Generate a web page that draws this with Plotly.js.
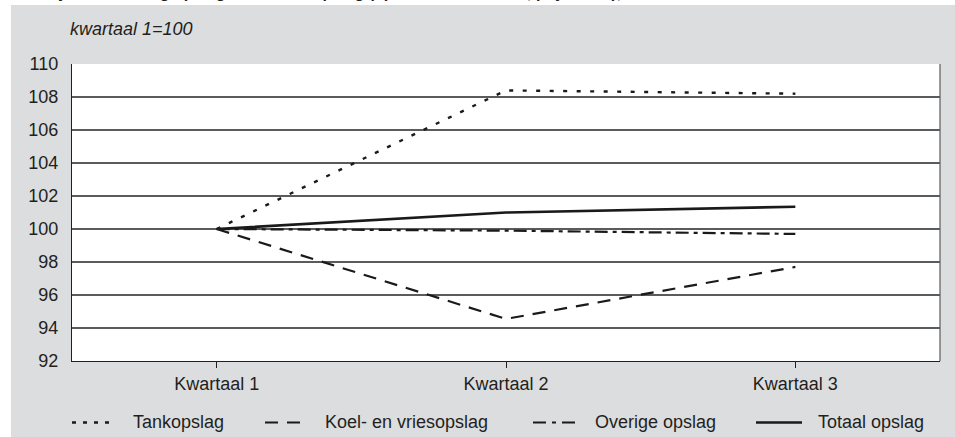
<!DOCTYPE html>
<html>
<head>
<meta charset="utf-8">
<script src="https://cdn.plot.ly/plotly-3.0.1.min.js"></script>
<style>html,body{margin:0;padding:0;background:#fff;}#chart{width:955px;height:437px;}</style>
</head>
<body>
<div id="chart"></div>
<script>
const categories = ["Kwartaal 1", "Kwartaal 2", "Kwartaal 3"];
const tankopslag = [100, 108.4, 108.2];
const koelVriesopslag = [100, 94.55, 97.7];
const overigeOpslag = [100, 99.9, 99.7];
const totaalOpslag = [100, 101.0, 101.35];
const seriesNames = ["Tankopslag", "Koel- en vriesopslag", "Overige opslag", "Totaal opslag"];
const yTicks = [92, 94, 96, 98, 100, 102, 104, 106, 108, 110];

const FONT = "Liberation Sans, Arial, sans-serif";
const TXT = "#231f20";
const lineColor = "#1a1a1a";
const dashes = ["4px,9.5px", "13px,9px", "13px,5px,4px,5px", "solid"];
const widths = [2.4, 2.2, 2.2, 2.6];
const seriesValues = [tankopslag, koelVriesopslag, overigeOpslag, totaalOpslag];

const traces = seriesValues.map((vals, i) => ({
  x: categories, y: vals, name: seriesNames[i], mode: "lines", showlegend: false,
  line: {color: lineColor, width: widths[i], dash: dashes[i]}
}));

const plotH = 297, plotTopPx = 64, plotW = 868, plotLeftPx = 72;
const px2x = p => (p - plotLeftPx) / plotW;
const py2y = p => 1 + (plotTopPx - p) / plotH;

// legend layout (pixel positions of symbol start/end and text start)
const legSym = [[72, 110], [265, 300], [533, 575], [756, 802]];
const legText = [133, 325, 595, 818];
const legY = 422.5;

const shapes = [
  {type: "rect", xref: "paper", yref: "paper", x0: px2x(0), x1: px2x(955), y0: py2y(5), y1: py2y(0),
   fillcolor: "#ffffff", line: {width: 0}, layer: "below"},
  {type: "rect", xref: "paper", yref: "paper", x0: px2x(0), x1: px2x(11), y0: py2y(437), y1: py2y(0),
   fillcolor: "#ffffff", line: {width: 0}, layer: "below"},
  {type: "line", xref: "paper", yref: "y", x0: 0, x1: 1, y0: 100, y1: 100,
   line: {color: "#111111", width: 1.6}, layer: "below"},
  {type: "line", xref: "paper", yref: "paper", x0: 1, x1: 1, y0: 0, y1: 1,
   line: {color: "#5a5b5d", width: 1.2}, layer: "below"}
];
const legDash = ["4px,7px", "13px,9px", "13px,6px,4px,6px", "solid"];
legSym.forEach((s, i) => {
  shapes.push({type: "line", xref: "paper", yref: "paper", x0: px2x(s[0]), x1: px2x(s[1]),
    y0: py2y(legY), y1: py2y(legY), line: {color: lineColor, width: widths[i], dash: legDash[i]}});
});

const annotations = [
  {text: "kwartaal 1=100", xref: "paper", yref: "paper", x: px2x(68), y: py2y(29),
   xanchor: "left", yanchor: "middle", showarrow: false,
   font: {size: 18, color: TXT, family: FONT, style: "italic"}},
  {text: "<b>Prijsontwikkeling opslag naar soort opslag (opslaan en bewaren, prijsindex), 2008</b>",
   xref: "paper", yref: "paper", x: px2x(36), y: py2y(3), xanchor: "left", yanchor: "bottom",
   showarrow: false, font: {size: 16, color: TXT, family: FONT}}
];
seriesNames.forEach((n, i) => {
  annotations.push({text: n, xref: "paper", yref: "paper", x: px2x(legText[i] - 2), y: py2y(legY - 1),
    xanchor: "left", yanchor: "middle", showarrow: false, font: {size: 18, color: TXT, family: FONT}});
});

const layout = {
  width: 955, height: 437,
  margin: {l: 72, r: 15, t: 64, b: 76, pad: 0},
  paper_bgcolor: "#dcdddf",
  plot_bgcolor: "#ffffff",
  font: {family: FONT, size: 18, color: TXT},
  showlegend: false,
  xaxis: {
    type: "category", range: [-0.5, 2.5], showgrid: false, zeroline: false,
    showline: true, linecolor: TXT, linewidth: 1.2,
    ticks: "outside", ticklen: 6, tickcolor: TXT, tickwidth: 1,
    tickfont: {size: 18}, fixedrange: true
  },
  yaxis: {
    range: [92, 110], tickvals: yTicks, ticktext: yTicks.map(String),
    showgrid: true, gridcolor: "#5a5b5d", gridwidth: 1.2, zeroline: false,
    showline: true, linecolor: TXT, linewidth: 1.2, ticks: "", ticklabelstandoff: 9,
    tickfont: {size: 18}, fixedrange: true
  },
  shapes: shapes,
  annotations: annotations
};

Plotly.newPlot("chart", traces, layout, {displayModeBar: false, staticPlot: true});
</script>
</body>
</html>
